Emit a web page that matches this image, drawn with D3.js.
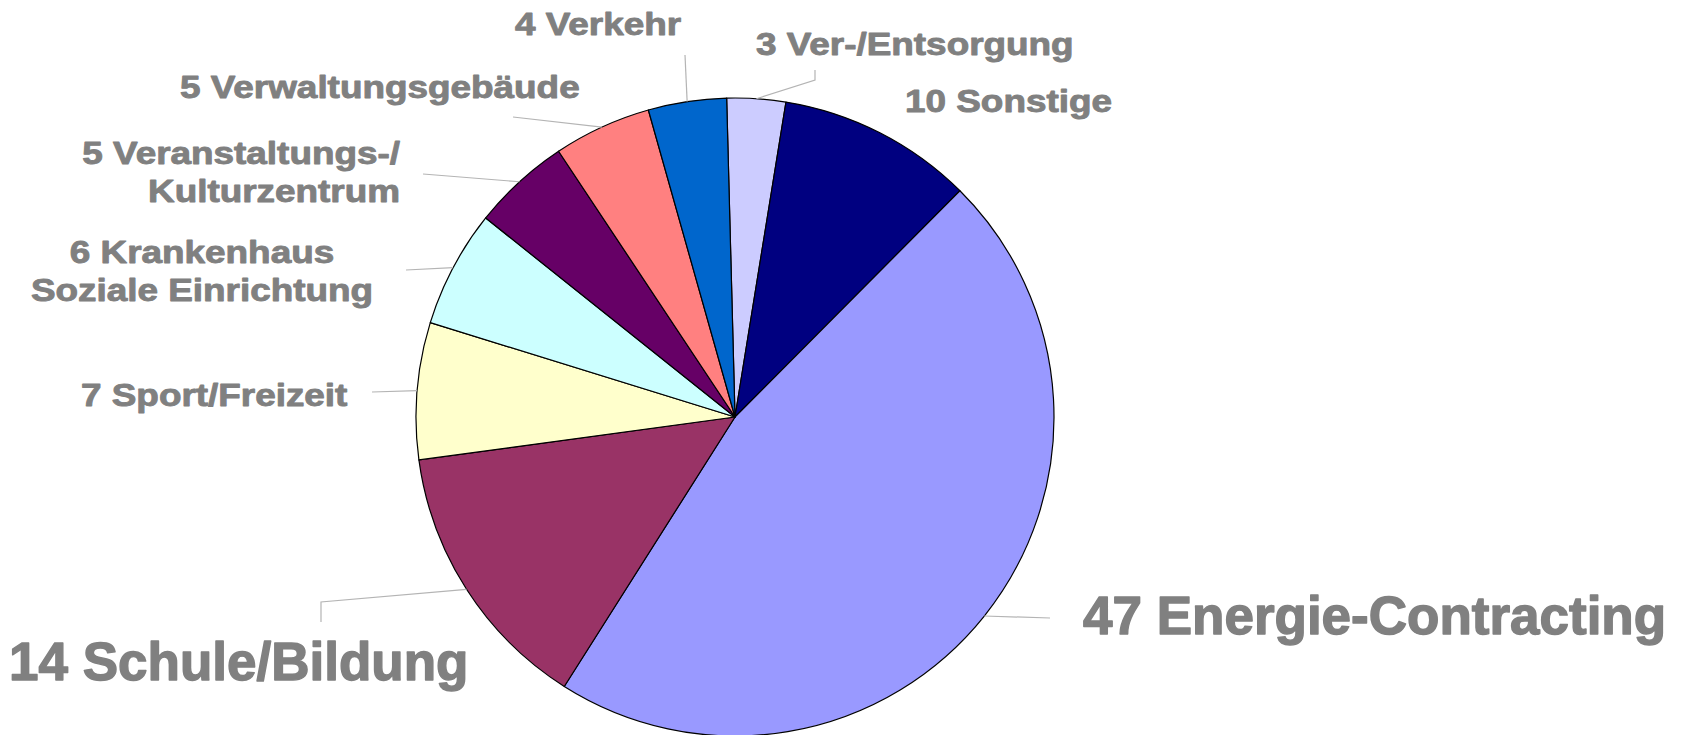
<!DOCTYPE html>
<html>
<head>
<meta charset="utf-8">
<script src="https://cdn.jsdelivr.net/npm/d3@7"></script>
<style>
  html, body { margin: 0; padding: 0; background: #fff; }
  svg { display: block; }
  .label { font-family: "Liberation Sans", Arial, sans-serif; font-weight: bold; fill: #808080; stroke: #808080; stroke-linejoin: round; }
</style>
</head>
<body>
<div id="chart"></div>
<script>
// categories clockwise, starting just left of 12 o'clock
const categories = ["Ver-/Entsorgung", "Sonstige", "Energie-Contracting", "Schule/Bildung",
  "Sport/Freizeit", "Krankenhaus", "Veranstaltungs-/", "Verwaltungsgebäude", "Verkehr"];
const values = [3, 10, 47, 14, 7, 6, 5, 5, 4];
// second text line for the two-line labels
const secondLines = [null, null, null, null, null, "Soziale Einrichtung", "Kulturzentrum", null, null];
const colors = ["#CCCCFF", "#000080", "#9999FF", "#993366", "#FFFFCC", "#CCFFFF", "#660066", "#FF8080", "#0066CC"];

const width = 1693, height = 735;
const cx = 735, cy = 417, radius = 319;

// label placement (baseline of first line) and leader line bends
const labelLayout = {
  "Ver-/Entsorgung":    {x: 756, y: 55, anchor: "start", big: false, path: [[815, 80], [815, 70]]},
  "Sonstige":           {x: 905, y: 112, anchor: "start", big: false, path: null},
  "Energie-Contracting":{x: 1083, y: 634, anchor: "start", big: true, path: [[1050, 618]]},
  "Schule/Bildung":     {x: 9, y: 680, anchor: "start", big: true, path: [[321, 602], [321, 622]]},
  "Sport/Freizeit":     {x: 81, y: 406, anchor: "start", big: false, path: [[372, 392]]},
  "Krankenhaus":        {x: 202, y: 263, anchor: "middle", big: false, path: [[406, 270]]},
  "Veranstaltungs-/":   {x: 400, y: 164, anchor: "end", big: false, path: [[423, 174]]},
  "Verwaltungsgebäude": {x: 180, y: 98, anchor: "start", big: false, path: [[513, 117]]},
  "Verkehr":            {x: 515, y: 35, anchor: "start", big: false, path: [[685, 55]]}
};

const data = categories.map((c, i) => ({name: c, value: values[i], line2: secondLines[i], color: colors[i]}));

const svg = d3.select("#chart")
  .append("svg")
    .attr("width", width)
    .attr("height", height);

const start = -1.5 * Math.PI / 180;
const pie = d3.pie()
  .sort(null)
  .value(d => d.value)
  .startAngle(start)
  .endAngle(start + 2 * Math.PI);

const arc = d3.arc().innerRadius(0).outerRadius(radius);
const edge = d3.arc().innerRadius(radius).outerRadius(radius);

const arcs = pie(data);

const g = svg.append("g")
  .attr("transform", "translate(" + cx + "," + cy + ")");

g.selectAll("path.slice")
  .data(arcs)
  .enter()
  .append("path")
    .attr("class", "slice")
    .attr("d", arc)
    .attr("fill", d => d.data.color)
    .attr("stroke", "#000")
    .attr("stroke-width", 1.2)
    .attr("stroke-linejoin", "round");

// leader lines, starting on the rim at each slice's middle angle
const line = d3.line();
arcs.forEach(a => {
  const lay = labelLayout[a.data.name];
  if (!lay.path) return;
  const p = edge.centroid(a);
  const pts = [[cx + p[0], cy + p[1]]].concat(lay.path);
  svg.append("path")
    .attr("d", line(pts))
    .attr("fill", "none")
    .attr("stroke", "#b4b4b4")
    .attr("stroke-width", 1.2);
});

// labels (the original text is a heavy, slightly widened bold face)
arcs.forEach(a => {
  const lay = labelLayout[a.data.name];
  const size = lay.big ? 53 : 31;
  const stretch = lay.big ? 1.0 : 1.19;
  const t = svg.append("g")
    .attr("transform", "translate(" + lay.x + "," + lay.y + ") scale(" + stretch + ",1)")
    .append("text")
      .attr("class", "label")
      .attr("text-anchor", lay.anchor)
      .style("font-size", size + "px")
      .style("stroke-width", lay.big ? 1.4 : 0.9);
  t.append("tspan")
    .attr("x", 0)
    .attr("y", 0)
    .text(a.data.value + " " + a.data.name);
  if (a.data.line2) {
    t.append("tspan")
      .attr("x", 0)
      .attr("y", 38.5)
      .text(a.data.line2);
  }
});
</script>
</body>
</html>
